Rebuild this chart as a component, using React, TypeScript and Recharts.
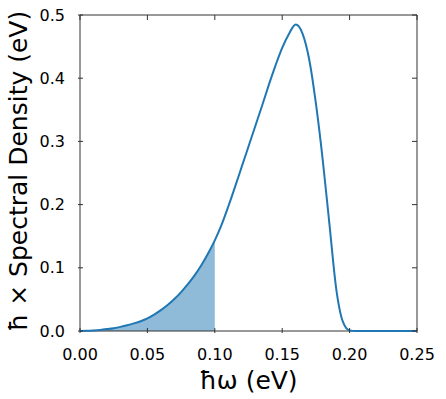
import { ComposedChart, Area, Line, XAxis, YAxis, ReferenceArea } from "recharts";

const W = 446;
const H = 399;
const MARGIN = { top: 15, right: 29, left: 0, bottom: 0 };
const PLOT_TOP = MARGIN.top;
const PLOT_RIGHT = W - MARGIN.right;
const FONT = "DejaVu Sans, sans-serif";

// photon energy (eV)
const energies = [
  0, 0.005, 0.01, 0.015, 0.02, 0.025, 0.03, 0.035, 0.04, 0.045,
  0.05, 0.055, 0.06, 0.065, 0.07, 0.075, 0.08, 0.085, 0.09, 0.095,
  0.1, 0.105, 0.11, 0.115, 0.12, 0.125, 0.13, 0.135, 0.14, 0.145,
  0.15, 0.155, 0.16, 0.165, 0.17, 0.175, 0.18, 0.185, 0.19, 0.195,
  0.2, 0.205, 0.21, 0.215, 0.22, 0.225, 0.23, 0.235, 0.24, 0.245, 0.25,
];

// ħ × spectral density (eV)
const density = [
  0, 0.0002, 0.0008, 0.0017, 0.003, 0.0045, 0.0065, 0.009, 0.012, 0.0155,
  0.02, 0.026, 0.033, 0.041, 0.0505, 0.0615, 0.074, 0.088, 0.104, 0.1225,
  0.1435, 0.168, 0.197, 0.228, 0.26, 0.292, 0.324, 0.356, 0.389, 0.42,
  0.448, 0.47, 0.485, 0.471, 0.43, 0.36, 0.272, 0.17, 0.068, 0.015,
  0.001, 0, 0, 0, 0, 0, 0, 0, 0, 0, 0,
];

const shadeLimit = 0.1;

const xTicks = [0, 0.05, 0.1, 0.15, 0.2, 0.25];
const yTicks = [0, 0.1, 0.2, 0.3, 0.4, 0.5];

const data = energies.map((x, i) => ({
  x,
  y: density[i],
  shade: x <= shadeLimit + 1e-9 ? density[i] : null,
}));

const XTick = ({ x, y, payload }: any) => (
  <g>
    <line x1={x} x2={x} y1={y} y2={y - 5} stroke="#333" />
    <line x1={x} x2={x} y1={PLOT_TOP} y2={PLOT_TOP + 5} stroke="#333" />
    <text x={x} y={y + 21} textAnchor="middle" dominantBaseline="central" fontSize={16} fontFamily={FONT} fill="#000">
      {payload.value.toFixed(2)}
    </text>
  </g>
);

const YTick = ({ x, y, payload }: any) => (
  <g>
    <line x1={x} x2={x + 5} y1={y} y2={y} stroke="#333" />
    <line x1={PLOT_RIGHT} x2={PLOT_RIGHT - 5} y1={y} y2={y} stroke="#333" />
    <text x={x - 13} y={y} textAnchor="end" dominantBaseline="central" fontSize={16} fontFamily={FONT} fill="#000">
      {payload.value.toFixed(1)}
    </text>
  </g>
);

const XLabel = ({ viewBox }: any) => (
  <text
    x={viewBox.x + viewBox.width / 2}
    y={viewBox.y + 49}
    textAnchor="middle"
    dominantBaseline="central"
    fontSize={25}
    fontFamily={FONT}
    fill="#000"
  >
    ħω (eV)
  </text>
);

const YLabel = ({ viewBox }: any) => {
  const cx = viewBox.x + 18;
  const cy = viewBox.y + viewBox.height / 2 - 2;
  return (
    <text
      x={cx}
      y={cy}
      transform={`rotate(-90, ${cx}, ${cy})`}
      textAnchor="middle"
      dominantBaseline="central"
      fontSize={25}
      fontFamily={FONT}
      fill="#000"
    >
      ħ × Spectral Density (eV)
    </text>
  );
};

export default function App() {
  return (
    <div style={{ position: "absolute", left: 0, top: 0, width: W, height: H, background: "#fff" }}>
      <ComposedChart width={W} height={H} data={data} margin={MARGIN}>
        <XAxis
          dataKey="x"
          type="number"
          domain={[0, 0.25]}
          ticks={xTicks}
          height={68}
          tickSize={0}
          tickLine={false}
          axisLine={false}
          tick={<XTick />}
          label={<XLabel />}
          interval={0}
        />
        <YAxis
          type="number"
          domain={[0, 0.5]}
          ticks={yTicks}
          width={80}
          tickSize={0}
          tickLine={false}
          axisLine={false}
          tick={<YTick />}
          label={<YLabel />}
          interval={0}
        />
        <Area
          dataKey="shade"
          type="monotone"
          fill="#1f77b4"
          fillOpacity={0.5}
          stroke="none"
          isAnimationActive={false}
          connectNulls={false}
        />
        <Line
          dataKey="y"
          type="monotone"
          stroke="#1f77b4"
          strokeWidth={2}
          dot={false}
          activeDot={false}
          isAnimationActive={false}
        />
        <ReferenceArea x1={0} x2={0.25} y1={0} y2={0.5} fill="none" stroke="#333" strokeWidth={1} fillOpacity={0} />
      </ComposedChart>
    </div>
  );
}
